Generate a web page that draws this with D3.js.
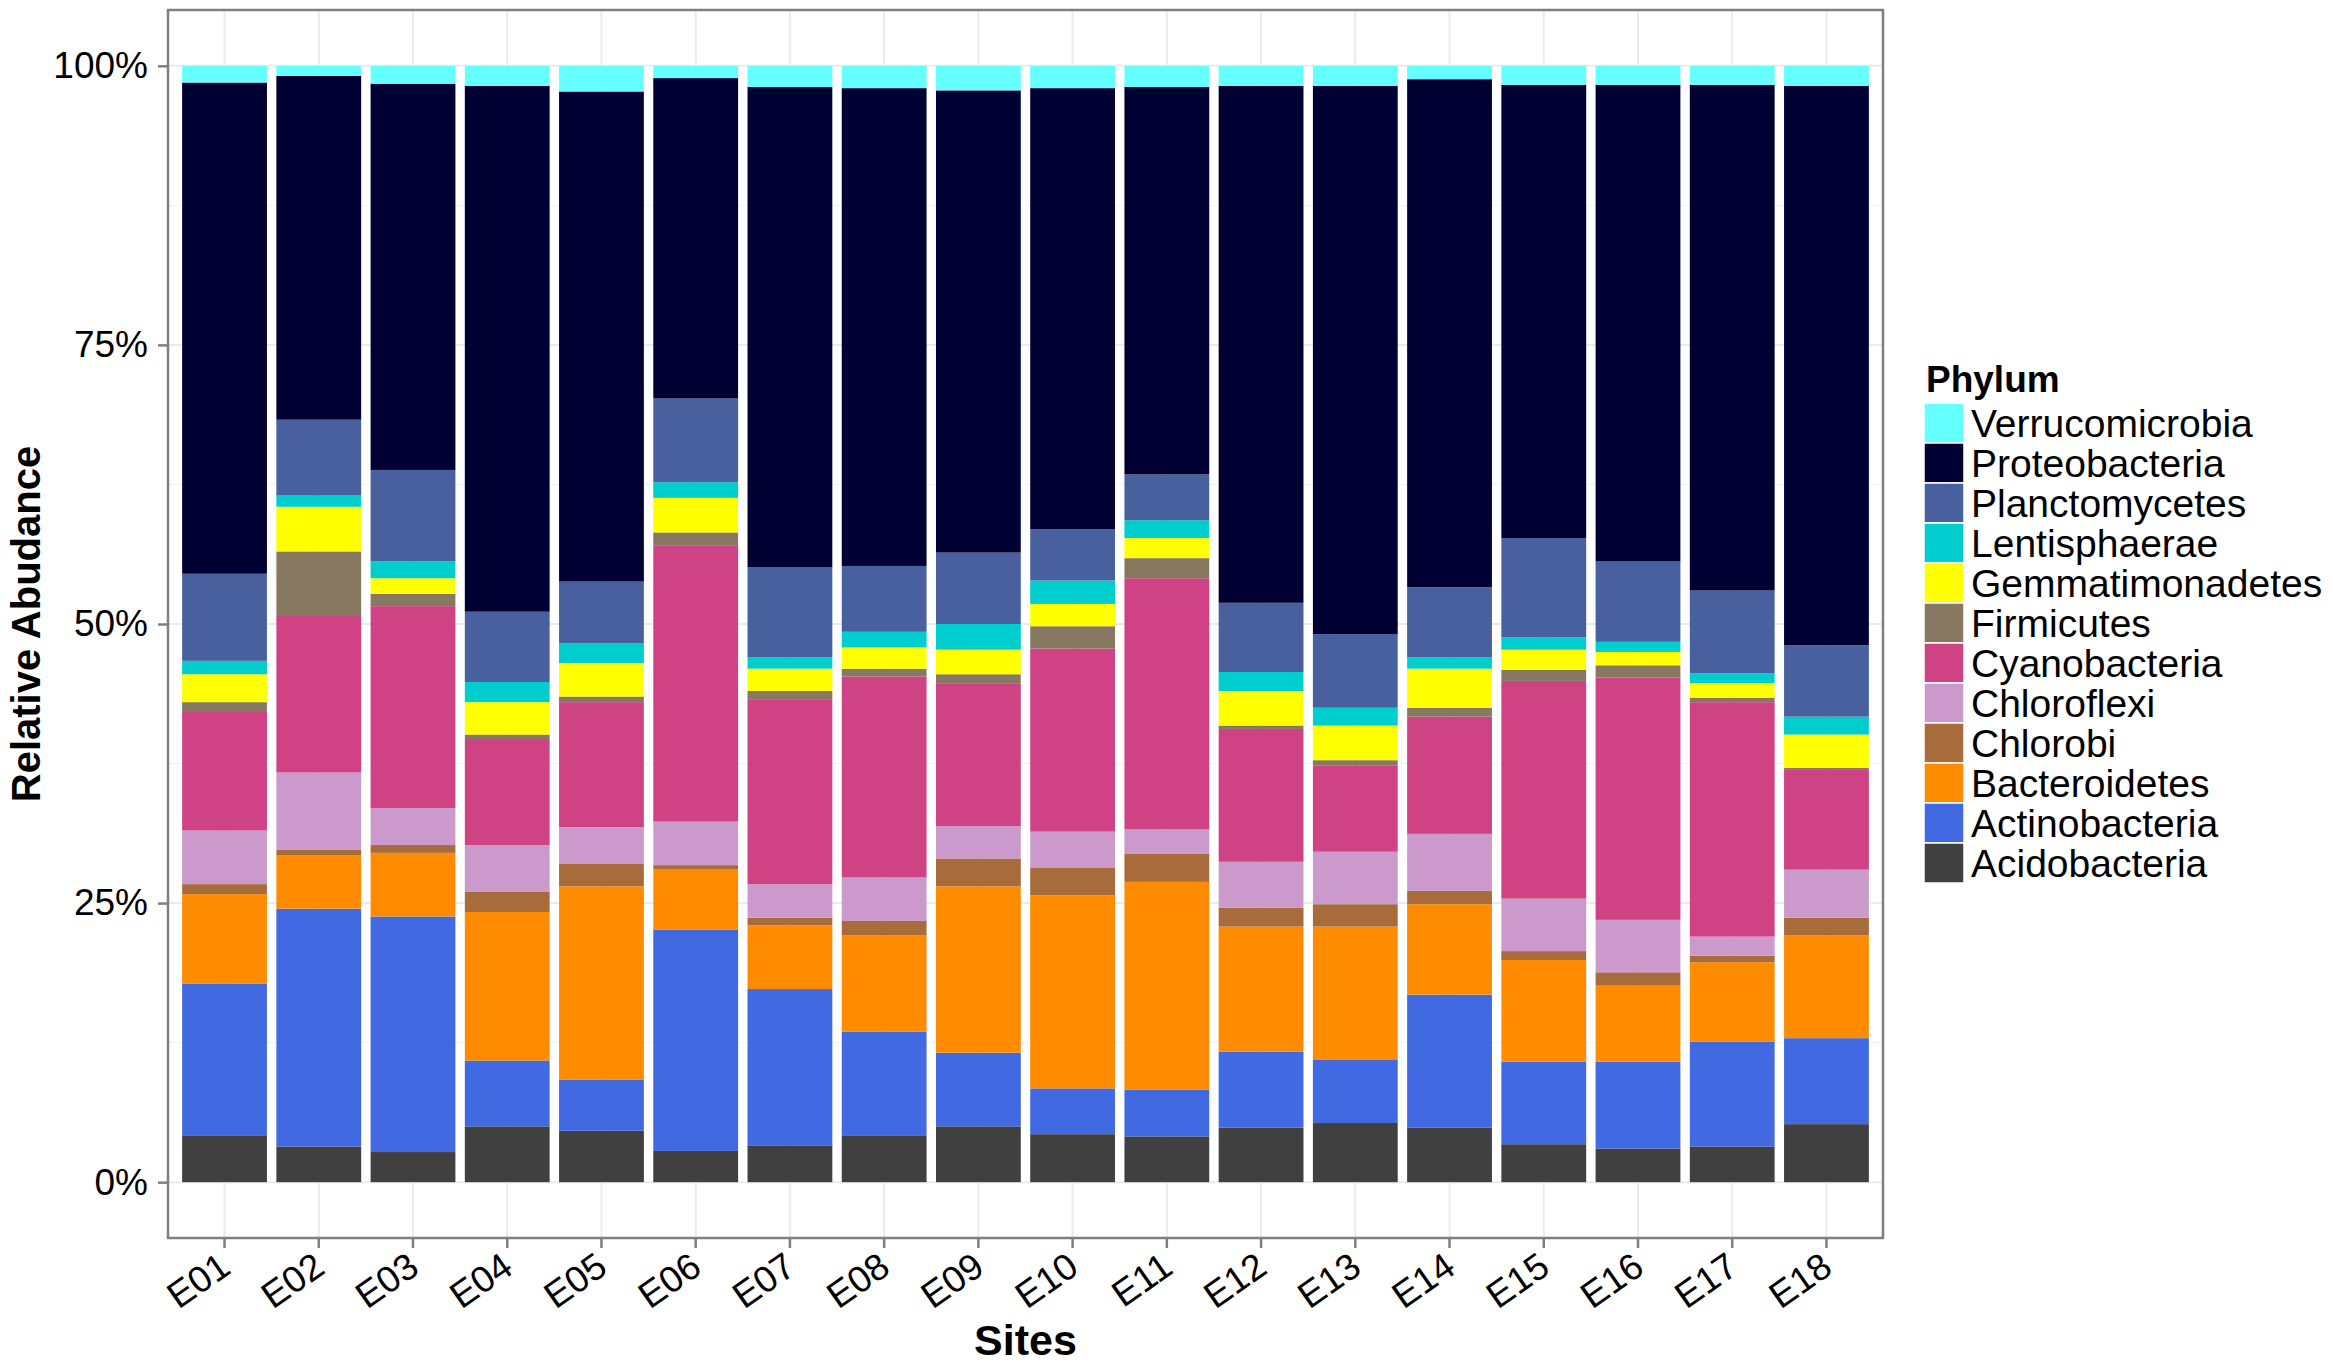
<!DOCTYPE html>
<html>
<head>
<meta charset="utf-8">
<script src="https://cdn.jsdelivr.net/npm/d3@7"></script>
<style>
  body { margin: 0; background: #fff; }
  text { font-family: "Liberation Sans", Arial, Helvetica, sans-serif; }
</style>
</head>
<body>
<div id="chart"></div>
<script>
/*
 * Stacked relative abundance per site, by phylum
 */

// Data (percent of reads per site)
var sites = ["E01","E02","E03","E04","E05","E06","E07","E08","E09","E10","E11","E12","E13","E14","E15","E16","E17","E18"];

// stack order, bottom -> top
var phyla = ["Acidobacteria","Actinobacteria","Bacteroidetes","Chlorobi","Chloroflexi","Cyanobacteria",
             "Firmicutes","Gemmatimonadetes","Lentisphaerae","Planctomycetes","Proteobacteria","Verrucomicrobia"];

var acidobacteria    = [4.2,3.2,2.7,5.0,4.6,2.8,3.3,4.2,5.0,4.3,4.1,4.9,5.3,4.9,3.4,3.0,3.2,5.2];
var actinobacteria   = [13.6,21.3,21.1,5.9,4.6,19.8,14.0,9.3,6.6,4.1,4.2,6.8,5.7,11.9,7.4,7.8,9.4,7.7];
var bacteroidetes    = [8.0,4.8,5.7,13.3,17.3,5.4,5.7,8.6,14.9,17.3,18.6,11.2,11.9,8.1,9.1,6.8,7.1,9.2];
var chlorobi         = [0.9,0.5,0.7,1.8,2.0,0.4,0.7,1.3,2.5,2.5,2.5,1.7,2.0,1.2,0.8,1.2,0.6,1.6];
var chloroflexi      = [4.8,6.9,3.3,4.2,3.3,3.9,3.0,3.9,2.9,3.2,2.2,4.1,4.7,5.1,4.7,4.7,1.7,4.3];
var cyanobacteria    = [10.7,14.1,18.1,9.5,11.2,24.7,16.5,18.0,12.8,16.4,22.5,11.9,7.7,10.5,19.5,21.7,21.0,9.0];
var firmicutes       = [0.8,5.7,1.1,0.4,0.5,1.2,0.8,0.7,0.8,2.0,1.8,0.3,0.5,0.8,1.0,1.1,0.4,0.1];
var gemmatimonadetes = [2.5,4.0,1.4,2.9,3.0,3.1,2.0,1.9,2.2,2.0,1.8,3.1,3.1,3.5,1.8,1.2,1.3,3.0];
var lentisphaerae    = [1.2,1.0,1.5,1.8,1.8,1.4,1.0,1.4,2.3,2.1,1.6,1.7,1.6,1.0,1.1,0.9,0.9,1.6];
var planctomycetes   = [7.8,6.8,8.2,6.3,5.5,7.5,8.1,5.9,6.4,4.6,4.1,6.2,6.6,6.3,8.9,7.2,7.4,6.4];
var proteobacteria   = [44.0,30.8,34.6,47.1,43.9,28.7,43.0,42.8,41.4,39.5,34.7,46.3,49.1,45.5,40.6,42.7,45.3,50.1];
var verrucomicrobia  = [1.5,0.9,1.6,1.8,2.3,1.1,1.9,2.0,2.2,2.0,1.9,1.8,1.8,1.2,1.7,1.7,1.7,1.8];

var phylumValues = [acidobacteria, actinobacteria, bacteroidetes, chlorobi, chloroflexi, cyanobacteria,
                    firmicutes, gemmatimonadetes, lentisphaerae, planctomycetes, proteobacteria, verrucomicrobia];

var phylumColors = ["#404040","#4169E1","#FF8C00","#A86B3C","#CC99CC","#CF4283",
                    "#877862","#FFFF00","#00CDCD","#48619E","#000033","#66FFFF"];

var yTicks = [0, 0.25, 0.5, 0.75, 1];

// Define Space
var width = 2333,
    height = 1365;
var panel = {left: 168, right: 1883, top: 10, bottom: 1238};

// one row per site, values normalised to 1
var table = sites.map(function (s, i) {
    var row = {site: s};
    var total = d3.sum(phylumValues, function (v) { return v[i]; });
    phyla.forEach(function (p, j) { row[p] = phylumValues[j][i] / total; });
    return row;
});

var stack = d3.stack().keys(phyla);
var series = stack(table);

var color = d3.scaleOrdinal().domain(phyla).range(phylumColors);

// ggplot-like expansion: 0.6 units on each side for discrete, 5% for continuous
var xStep = (panel.right - panel.left) / (sites.length + 0.2);
var x = d3.scaleBand()
    .domain(sites)
    .range([panel.left + 0.1 * xStep, panel.right - 0.1 * xStep])
    .paddingInner(0.1)
    .paddingOuter(0.05);

var y = d3.scaleLinear()
    .domain([-0.05, 1.05])
    .range([panel.bottom, panel.top]);

var svg = d3.select("#chart").append("svg")
    .attr("width", width)
    .attr("height", height);

// panel background + grid
svg.append("rect")
    .attr("x", panel.left).attr("y", panel.top)
    .attr("width", panel.right - panel.left).attr("height", panel.bottom - panel.top)
    .style("fill", "#fff");

var minor = d3.range(0.125, 1, 0.25);
svg.append("g").selectAll("line")
    .data(minor)
    .enter().append("line")
    .attr("x1", panel.left).attr("x2", panel.right)
    .attr("y1", function (d) { return y(d); }).attr("y2", function (d) { return y(d); })
    .style("stroke", "#f2f2f2").style("stroke-width", 1);

svg.append("g").selectAll("line")
    .data(yTicks)
    .enter().append("line")
    .attr("x1", panel.left).attr("x2", panel.right)
    .attr("y1", function (d) { return y(d); }).attr("y2", function (d) { return y(d); })
    .style("stroke", "#ebebeb").style("stroke-width", 2);

svg.append("g").selectAll("line")
    .data(sites)
    .enter().append("line")
    .attr("x1", function (d) { return x(d) + x.bandwidth() / 2; })
    .attr("x2", function (d) { return x(d) + x.bandwidth() / 2; })
    .attr("y1", panel.top).attr("y2", panel.bottom)
    .style("stroke", "#ebebeb").style("stroke-width", 2);

// bars
svg.append("g").selectAll("g")
    .data(series)
    .enter().append("g")
    .style("fill", function (d) { return color(d.key); })
    .selectAll("rect")
    .data(function (d) { return d; })
    .enter().append("rect")
    .attr("x", function (d) { return x(d.data.site); })
    .attr("width", x.bandwidth())
    .attr("y", function (d) { return y(d[1]); })
    .attr("height", function (d) { return y(d[0]) - y(d[1]); });

// panel border
svg.append("rect")
    .attr("x", panel.left).attr("y", panel.top)
    .attr("width", panel.right - panel.left).attr("height", panel.bottom - panel.top)
    .style("fill", "none").style("stroke", "#7f7f7f").style("stroke-width", 2.5);

// y axis
var yAxis = d3.axisLeft(y)
    .tickValues(yTicks)
    .tickFormat(d3.format(".0%"))
    .tickSize(10)
    .tickPadding(10);

var gy = svg.append("g")
    .attr("transform", "translate(" + panel.left + ",0)")
    .call(yAxis);
gy.select(".domain").remove();
gy.selectAll(".tick line").style("stroke", "#7f7f7f").style("stroke-width", 2.5);
gy.selectAll(".tick text")
    .style("font-size", "37px")
    .style("fill", "#000");

// x axis
var xAxis = d3.axisBottom(x)
    .tickSize(10)
    .tickPadding(8);

var gx = svg.append("g")
    .attr("transform", "translate(0," + panel.bottom + ")")
    .call(xAxis);
gx.select(".domain").remove();
gx.selectAll(".tick line").style("stroke", "#7f7f7f").style("stroke-width", 2.5);
gx.selectAll(".tick text")
    .style("font-size", "37px")
    .style("fill", "#000")
    .style("text-anchor", "end")
    .attr("x", 0)
    .attr("y", 0)
    .attr("dy", null)
    .attr("transform", "translate(8,34) rotate(-35)");

// axis titles
svg.append("text")
    .attr("x", (panel.left + panel.right) / 2)
    .attr("y", 1355)
    .style("text-anchor", "middle")
    .style("font-size", "43px")
    .style("font-weight", "bold")
    .text("Sites");

svg.append("text")
    .attr("transform", "translate(40," + (panel.top + panel.bottom) / 2 + ") rotate(-90)")
    .style("text-anchor", "middle")
    .style("font-size", "40px")
    .style("font-weight", "bold")
    .text("Relative Abudance");

// Legend (top -> bottom is reverse stack order)
var legendItems = phyla.slice().reverse();
var legend = svg.append("g")
    .attr("transform", "translate(1924,403)");

legend.append("text")
    .attr("x", 2)
    .attr("y", -11)
    .style("font-size", "37px")
    .style("font-weight", "bold")
    .text("Phylum");

var item = legend.selectAll("g.item")
    .data(legendItems)
    .enter().append("g")
    .attr("class", "item")
    .attr("transform", function (d, i) { return "translate(0," + i * 40 + ")"; });

item.append("rect")
    .attr("width", 40)
    .attr("height", 40)
    .style("fill", function (d) { return color(d); })
    .style("stroke", "#fff")
    .style("stroke-width", 1.5);

item.append("text")
    .attr("x", 47)
    .attr("y", 20)
    .attr("dy", "0.35em")
    .style("font-size", "39px")
    .text(function (d) { return d; });
</script>
</body>
</html>
